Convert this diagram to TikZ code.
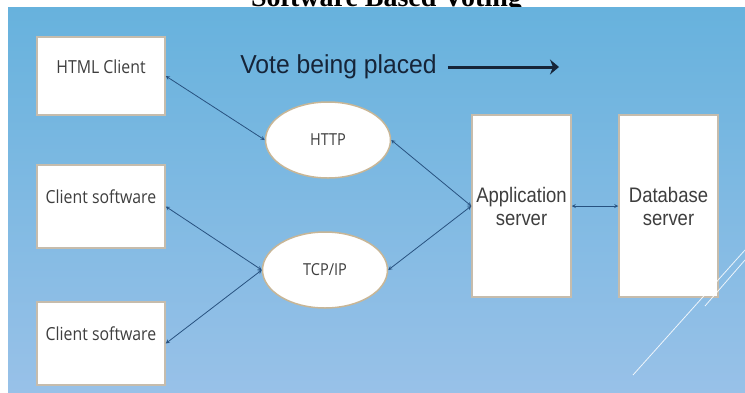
\documentclass[tikz,border=0pt]{standalone}
\usepackage{fontspec}
\usepackage{tikz}
\usetikzlibrary{shapes.geometric}
\usetikzlibrary{arrows}
\usetikzlibrary{arrows.meta}
\newfontfamily\slidefont{Open Sans}[FakeStretch=0.88]
\newfontfamily\arialfont{Liberation Sans}[FakeStretch=0.88]
\newfontfamily\votefont{Liberation Sans}[FakeStretch=0.95]
\newfontfamily\titlefont{Liberation Serif}
\definecolor{slidetop}{RGB}{103,178,221}
\definecolor{slidebottom}{RGB}{152,193,232}
\definecolor{boxline}{RGB}{198,188,172}
\definecolor{ovalline}{RGB}{200,182,150}
\definecolor{linkblue}{RGB}{40,82,128}
\definecolor{inktext}{RGB}{62,62,62}
\definecolor{voteink}{RGB}{22,36,56}

\tikzset{
  client/.style={draw=boxline, line width=1.5pt, fill=white, inner sep=0pt,
    minimum width=128pt, minimum height=83pt, text height=0pt, text depth=6pt,
    text=inktext, font=\slidefont\fontsize{18}{20}\selectfont},
  proto/.style={ellipse, draw=ovalline, line width=1.5pt, fill=white, inner sep=0pt,
    minimum width=125pt, minimum height=76pt,
    text=inktext, font=\slidefont\fontsize{16.5}{18}\selectfont},
  server/.style={draw=boxline, line width=1.5pt, fill=white, inner sep=0pt,
    minimum width=99pt, minimum height=182pt, align=center,
    text=inktext, font=\arialfont\fontsize{21}{23}\selectfont}
}

\begin{document}
\begin{tikzpicture}[x=1pt,y=-1pt]
  \useasboundingbox (0,0) rectangle (745,392);
  \clip (0,0) rectangle (745,392);
  \node (title) [anchor=base, font=\titlefont\bfseries\fontsize{28}{30}\selectfont]
    at (386.5,6) {Software Based Voting};
  \fill[top color=slidetop, bottom color=slidebottom] (8,7.5) rectangle (745,392);

  \node (html) [client, minimum height=78pt] at (101,76) {HTML Client};
  \node (cs1) [client] at (101,206.5) {Client software};
  \node (cs2) [client] at (101,343.5) {Client software};
  \node (http) [proto] at (328,140) {HTTP};
  \node (tcp) [proto] at (325,270) {TCP/IP};
  \node (app) [server] at (521.5,206) {Application\\server};
  \node (db) [server] at (668.5,206) {Database\\server};

  \node (vote) [anchor=base, inner sep=0pt, text=voteink,
    font=\votefont\fontsize{26}{28}\selectfont] at (338.5,73) {Vote being placed};
  \coordinate (votetip) at (559,67);
  \draw[-{Stealth[length=9pt,width=15pt,inset=3pt]}, voteink, line width=3pt]
    ([xshift=11pt]vote.east |- votetip) -- (votetip);

  \path[stealth-stealth, linkblue, line width=0.8pt]
    (html.east) edge (http.west)
    (http.east) edge (app.west)
    (tcp.east) edge (app.west)
    (cs1.east) edge (tcp.west)
    (cs2.east) edge (tcp.west)
    (app.east) edge (db.west);

  % thin white lines in the corner
  \draw[white, line width=0.8pt, opacity=0.85] (633,375) -- (745,250);
  \draw[white, line width=0.8pt, opacity=0.85] (705,306) -- (745,260);
\end{tikzpicture}
\end{document}
